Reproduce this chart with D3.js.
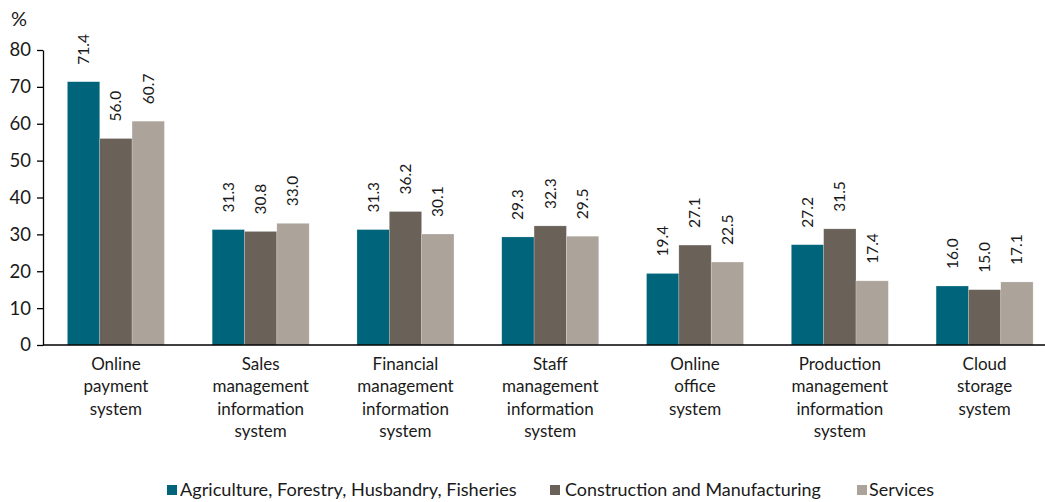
<!DOCTYPE html>
<html><head><meta charset="utf-8">
<script src="https://cdn.jsdelivr.net/npm/d3@7"></script>
<style>
html,body{margin:0;padding:0;background:#fff;}
svg{display:block;font-family:Lato,"Noto Sans",sans-serif;}
</style></head>
<body><svg id="chart" width="1045" height="502"></svg>
<script>
const categories = [
  ["Online","payment","system"],
  ["Sales","management","information","system"],
  ["Financial","management","information","system"],
  ["Staff","management","information","system"],
  ["Online","office","system"],
  ["Production","management","information","system"],
  ["Cloud","storage","system"]
];
const seriesNames = ["Agriculture, Forestry, Husbandry, Fisheries","Construction and Manufacturing","Services"];
const agriculture = [71.4,31.3,31.3,29.3,19.4,27.2,16.0];
const construction = [56.0,30.8,36.2,32.3,27.1,31.5,15.0];
const services = [60.7,33.0,30.1,29.5,22.5,17.4,17.1];
const yTicks = [0,10,20,30,40,50,60,70,80];
const colors = ["#00657a","#6a6158","#aca49b"];

const series = [agriculture, construction, services];
const svg = d3.select("#chart");
const catKeys = categories.map((c,i)=>i);

const y = d3.scaleLinear().domain([0,80]).range([345,50]);
const x0 = d3.scaleBand().domain(catKeys).range([43.5,1057]).paddingInner(0.33).paddingOuter(0.165);
const x1 = d3.scaleBand().domain([0,1,2]).range([0,x0.bandwidth()]);

// bars
const g = svg.append("g");
catKeys.forEach(ci=>{
  series.forEach((s,si)=>{
    g.append("rect")
      .attr("x", x0(ci)+x1(si))
      .attr("y", y(s[ci]))
      .attr("width", x1.bandwidth())
      .attr("height", y(0)-y(s[ci]))
      .attr("fill", colors[si])
      .attr("stroke","#ffffff").attr("stroke-opacity",0.35).attr("stroke-width",0.6);
    g.append("text")
      .attr("transform", `translate(${x0(ci)+x1(si)+x1.bandwidth()/2},${y(s[ci])-17}) rotate(-90)`)
      .attr("dy","0.35em")
      .attr("text-anchor","start")
      .attr("font-size",15.5)
      .attr("fill","#1a1a1a")
      .text(s[ci].toFixed(1));
  });
});

// y axis
const yAxis = d3.axisLeft(y).tickValues(yTicks).tickSize(6).tickSizeOuter(0).tickPadding(6);
const ya = svg.append("g").attr("transform","translate(43,0)").call(yAxis);
ya.selectAll("text").attr("font-size",18.5).attr("fill","#1a1a1a").attr("font-family","Lato");
ya.selectAll("line").attr("stroke","#000").attr("stroke-width",1.3);
ya.select(".domain").attr("stroke","#000").attr("stroke-width",1.3);

// x axis line
svg.append("line").attr("x1",43).attr("x2",1045).attr("y1",y(0)).attr("y2",y(0))
  .attr("stroke","#000").attr("stroke-width",1.3);

svg.append("text").attr("x",11).attr("y",26).attr("font-size",20).attr("fill","#1a1a1a").text("%");

// category labels
catKeys.forEach(ci=>{
  const t = svg.append("text")
    .attr("x", x0(ci)+x0.bandwidth()/2)
    .attr("y", 370)
    .attr("text-anchor","middle")
    .attr("font-size",17)
    .attr("fill","#1a1a1a");
  categories[ci].forEach((line,li)=>{
    t.append("tspan").attr("x", x0(ci)+x0.bandwidth()/2).attr("dy", li===0?0:22.3).text(line);
  });
});

// legend
const legendItems = [
  {sx:167, tx:180, tw:337},
  {sx:550, tx:565, tw:256},
  {sx:857, tx:869, tw:65}
];
legendItems.forEach((it,i)=>{
  svg.append("rect").attr("x",it.sx).attr("y",485).attr("width",10).attr("height",10).attr("fill",colors[i]);
  const t = svg.append("text").attr("x",0).attr("y",0).attr("font-size",17)
    .attr("fill","#1a1a1a").text(seriesNames[i]);
  const w = t.node().getComputedTextLength();
  t.attr("transform",`translate(${it.tx},496) scale(${it.tw/w},1)`);
});
</script>
</body></html>
